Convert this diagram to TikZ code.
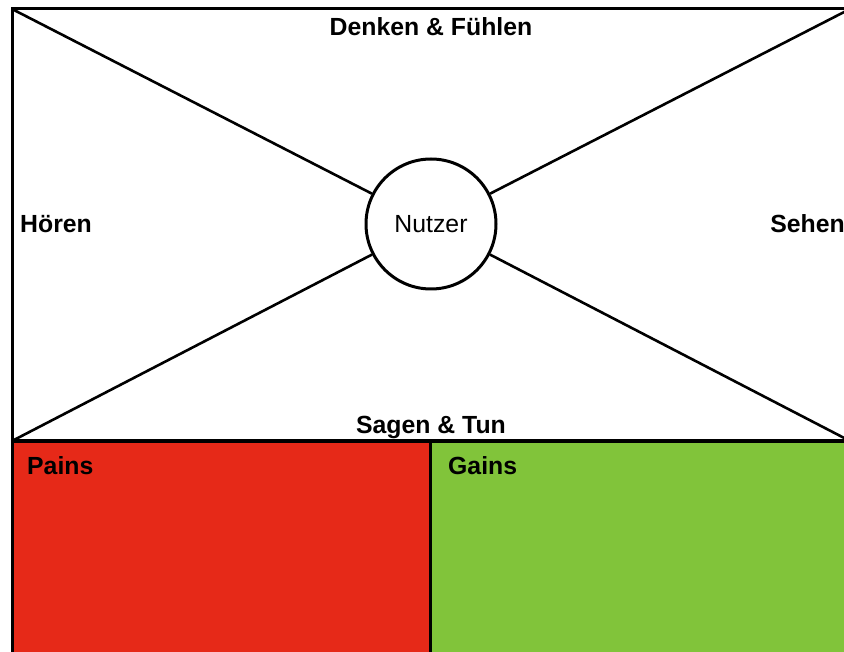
\documentclass[tikz,border=0pt]{standalone}
\usepackage{fontspec}
\setmainfont{Liberation Sans}
\definecolor{painred}{RGB}{230,41,24}
\definecolor{gaingreen}{RGB}{129,196,58}
\begin{document}
\begin{tikzpicture}[x=1pt,y=-1pt,
  lbl/.style={font=\fontsize{24.8}{30}\selectfont\bfseries, inner sep=0pt, anchor=base},
  border/.style={line width=3pt, black},
  diag/.style={line width=2.6pt, black}]
\useasboundingbox (0,0) rectangle (844,652);
\clip (0,0) rectangle (844,652);
% bottom panels
\fill[painred] (12,441) rectangle (430,660);
\fill[gaingreen] (430,441) rectangle (860,660);
\draw[border] (430,441) -- (430,660);
% top box
\coordinate (tl) at (12,9);
\coordinate (tr) at (850,9);
\coordinate (bl) at (12,441);
\coordinate (br) at (850,441);
\coordinate (lbot) at (12,660);
\coordinate (rbot) at (860,441);
\draw[border, line join=miter] (lbot) -- (bl) -- (tl) -- (tr) -- (br);
\draw[border] (bl) -- (rbot);
\node[circle, draw, line width=3pt, minimum size=130pt, inner sep=0pt] (nutzer) at (431,224) {};
\node[inner sep=0pt, anchor=base, font=\fontsize{24.8}{30}\selectfont] (nutzertext) at (431,233) {Nutzer};
\draw[diag] (tl) -- (nutzer);
\draw[diag] (tr) -- (nutzer);
\draw[diag] (bl) -- (nutzer);
\draw[diag] (br) -- (nutzer);
% labels
\node[lbl] (denken) at (431,36) {Denken \& Fühlen};
\node[lbl, anchor=base west] (hoeren) at (20,233) {Hören};
\node[lbl, anchor=base east] (sehen) at (845,233) {Sehen};
\node[lbl] (sagen) at (431,433) {Sagen \& Tun};
\node[lbl, anchor=base west] (pains) at (27,475) {Pains};
\node[lbl, anchor=base west] (gains) at (448,475) {Gains};
\end{tikzpicture}
\end{document}
